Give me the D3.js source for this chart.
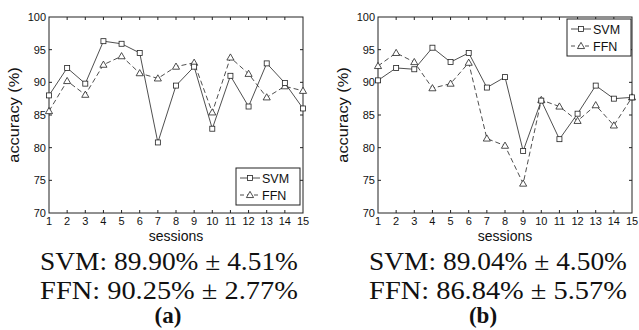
<!DOCTYPE html>
<html lang="en">
<head>
  <meta charset="utf-8" />
  <title>SVM vs FFN accuracy</title>
  <script src="https://d3js.org/d3.v7.min.js"></script>
  <style>
    body { margin: 0; background: #fff; }
    svg { display: block; }
    .tick-label { font-family: "Liberation Sans", Arial, sans-serif; font-size: 11px; fill: #111; }
    .axis-title { font-family: "Liberation Sans", Arial, sans-serif; font-size: 14px; fill: #111; }
    .legend-text { font-family: "Liberation Sans", Arial, sans-serif; font-size: 12.5px; fill: #111; }
    .summary { font-family: "Liberation Serif", "Times New Roman", serif; font-size: 26px; fill: #111; }
  </style>
</head>
<body>
<svg width="639" height="330"></svg>
<script>
// sessions on the x axis
var sessions = [1, 2, 3, 4, 5, 6, 7, 8, 9, 10, 11, 12, 13, 14, 15];
var yTicks = [70, 75, 80, 85, 90, 95, 100];

// panel (a)
var svmA = [88.0, 92.2, 89.8, 96.3, 95.9, 94.5, 80.8, 89.5, 92.4, 82.9, 91.0, 86.3, 92.9, 89.9, 86.0];
var ffnA = [85.6, 90.2, 88.1, 92.7, 94.0, 91.4, 90.6, 92.4, 93.0, 85.4, 93.8, 91.3, 87.7, 89.4, 88.7];
// panel (b)
var svmB = [90.3, 92.2, 92.0, 95.3, 93.1, 94.5, 89.2, 90.8, 79.5, 87.2, 81.3, 85.2, 89.5, 87.5, 87.7];
var ffnB = [92.5, 94.5, 93.1, 89.1, 89.8, 93.0, 81.4, 80.3, 74.5, 87.3, 86.3, 84.1, 86.5, 83.4, 87.7];

var summaryA = ["SVM: 89.90% \u00b1 4.51%", "FFN: 90.25% \u00b1 2.77%"];
var summaryB = ["SVM: 89.04% \u00b1 4.50%", "FFN: 86.84% \u00b1 5.57%"];
var panelLabels = ["(a)", "(b)"];

var svg = d3.select("svg");
var ink = "#222";

// draw one MATLAB-style panel
function panel(left, svm, ffn, legendBox, summary, label, textCenter, labelCenter) {
  var x = d3.scaleLinear().domain([1, 15]).range([left, left + 254]);
  var y = d3.scaleLinear().domain([70, 100]).range([213, 17]);
  var g = svg.append("g");

  // frame
  g.append("rect")
    .attr("x", x(1)).attr("y", y(100))
    .attr("width", x(15) - x(1)).attr("height", y(70) - y(100))
    .attr("fill", "none").attr("stroke", ink).attr("stroke-width", 1);

  // inward ticks on all four sides
  sessions.slice(1, -1).forEach(function (s) {
    g.append("line").attr("x1", x(s)).attr("x2", x(s)).attr("y1", y(70)).attr("y2", y(70) - 3).attr("stroke", ink);
    g.append("line").attr("x1", x(s)).attr("x2", x(s)).attr("y1", y(100)).attr("y2", y(100) + 3).attr("stroke", ink);
  });
  yTicks.slice(1, -1).forEach(function (v) {
    g.append("line").attr("x1", x(1)).attr("x2", x(1) + 3).attr("y1", y(v)).attr("y2", y(v)).attr("stroke", ink);
    g.append("line").attr("x1", x(15)).attr("x2", x(15) - 3).attr("y1", y(v)).attr("y2", y(v)).attr("stroke", ink);
  });

  g.selectAll(".xl").data(sessions).enter().append("text")
    .attr("class", "tick-label")
    .attr("x", function (d) { return x(d); })
    .attr("y", y(70) + 12)
    .attr("text-anchor", "middle")
    .text(function (d) { return d; });

  g.selectAll(".yl").data(yTicks).enter().append("text")
    .attr("class", "tick-label")
    .attr("x", x(1) - 3)
    .attr("y", function (d) { return y(d) + 4; })
    .attr("text-anchor", "end")
    .text(function (d) { return d; });

  g.append("text").attr("class", "axis-title")
    .attr("x", (x(1) + x(15)) / 2).attr("y", 241)
    .attr("text-anchor", "middle")
    .text("sessions");

  g.append("text").attr("class", "axis-title")
    .attr("transform", "translate(" + (left - 30) + "," + ((y(70) + y(100)) / 2) + ") rotate(-90) scale(1.17,1)")
    .attr("text-anchor", "middle")
    .text("accuracy (%)");

  var line = d3.line().x(function (d, i) { return x(sessions[i]); }).y(function (d) { return y(d); });

  g.append("path").datum(ffn).attr("d", line)
    .attr("fill", "none").attr("stroke", ink).attr("stroke-width", 0.8).attr("stroke-dasharray", "5,3");
  g.append("path").datum(svm).attr("d", line)
    .attr("fill", "none").attr("stroke", ink).attr("stroke-width", 0.8);

  var tri = d3.symbol().type(d3.symbolTriangle).size(22);
  g.selectAll(".tri").data(ffn).enter().append("path")
    .attr("d", tri)
    .attr("transform", function (d, i) { return "translate(" + x(sessions[i]) + "," + (y(d) + 0.5) + ")"; })
    .attr("fill", "#fff").attr("stroke", ink).attr("stroke-width", 0.8);

  g.selectAll(".sq").data(svm).enter().append("rect")
    .attr("x", function (d, i) { return x(sessions[i]) - 2.5; })
    .attr("y", function (d) { return y(d) - 2.5; })
    .attr("width", 5).attr("height", 5)
    .attr("fill", "#fff").attr("stroke", ink).attr("stroke-width", 0.8);

  // legend
  var lb = legendBox;
  var lg = g.append("g");
  lg.append("rect").attr("x", lb[0]).attr("y", lb[1]).attr("width", lb[2]).attr("height", lb[3])
    .attr("fill", "#fff").attr("stroke", ink).attr("stroke-width", 1);
  var rows = [{ name: "SVM", dash: null, sym: "sq" }, { name: "FFN", dash: "4,3", sym: "tri" }];
  rows.forEach(function (r, i) {
    var cy = lb[1] + 10 + i * 17;
    var x0 = lb[0] + 4;
    lg.append("line").attr("x1", x0).attr("x2", x0 + 20).attr("y1", cy).attr("y2", cy)
      .attr("stroke", ink).attr("stroke-width", 0.8).attr("stroke-dasharray", r.dash);
    if (r.sym === "sq") {
      lg.append("rect").attr("x", x0 + 7.5).attr("y", cy - 2.5).attr("width", 5).attr("height", 5)
        .attr("fill", "#fff").attr("stroke", ink).attr("stroke-width", 0.8);
    } else {
      lg.append("path").attr("d", tri).attr("transform", "translate(" + (x0 + 10) + "," + (cy + 0.5) + ")")
        .attr("fill", "#fff").attr("stroke", ink).attr("stroke-width", 0.8);
    }
    lg.append("text").attr("class", "legend-text").attr("x", x0 + 22).attr("y", cy + 4.5).text(r.name);
  });

  // summary lines below the panel, stretched to the reference width
  var targetW = 258;
  summary.forEach(function (s, i) {
    var t = svg.append("text").attr("class", "summary").attr("text-anchor", "middle").text(s);
    var w = t.node().getComputedTextLength();
    var sx = targetW / w;
    t.attr("transform", "translate(" + textCenter + "," + (270 + i * 29) + ") scale(" + sx + ",1)");
  });
  svg.append("text").attr("class", "summary").attr("text-anchor", "middle")
    .attr("font-weight", "bold").style("font-size", "23px")
    .attr("transform", "translate(" + labelCenter + ",323)")
    .text(label);
}

panel(49, svmA, ffnA, [236, 168, 64, 37], summaryA, panelLabels[0], 169, 168);
panel(378, svmB, ffnB, [567, 19, 64, 37], summaryB, panelLabels[1], 498, 483);
</script>
</body>
</html>
